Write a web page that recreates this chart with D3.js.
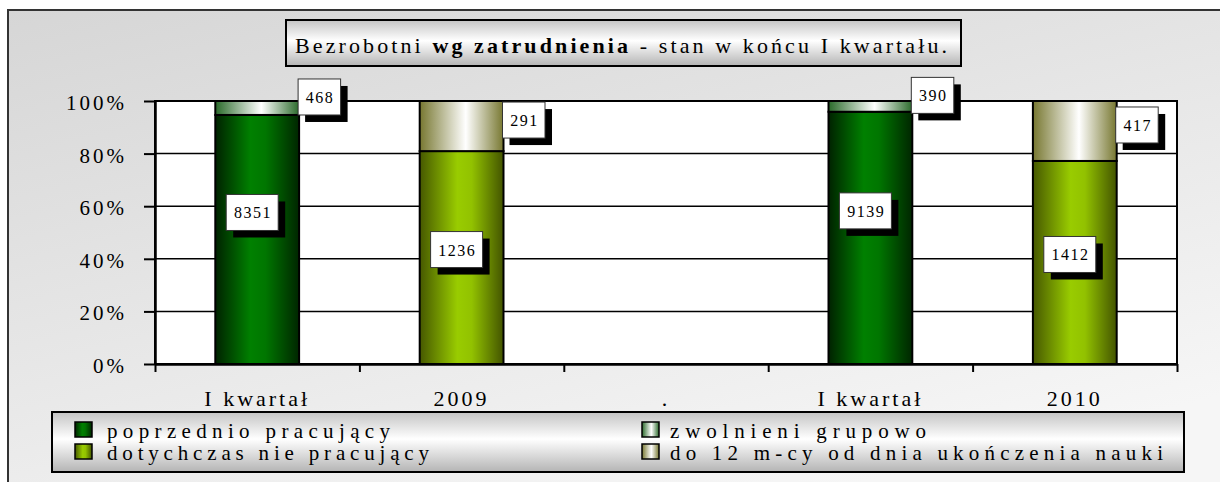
<!DOCTYPE html>
<html>
<head>
<meta charset="utf-8">
<script src="https://cdn.jsdelivr.net/npm/d3@7"></script>
<style>
    body { margin: 0; background: #fff; }
    svg { display: block; }
    text { font-family: "Liberation Serif", "Times New Roman", serif; fill: #000; }
</style>
</head>
<body>
<div class="chart"></div>
<script>
// data
const categories = ["I kwartał", "2009", ".", "I kwartał", "2010"];
const seriesNames = ["poprzednio pracujący", "dotychczas nie pracujący", "zwolnieni grupowo", "do 12 m-cy od dnia ukończenia nauki"];
const poprzednio = [8351, 0, 0, 9139, 0];
const dotychczas = [0, 1236, 0, 0, 1412];
const zwolnieni = [468, 0, 0, 390, 0];
const do12 = [0, 291, 0, 0, 417];
const yTicks = [0, 0.2, 0.4, 0.6, 0.8, 1];

const keys = ["p", "d", "z", "m"];
const rows = categories.map((c, i) => ({ i: i, cat: c, p: poprzednio[i], d: dotychczas[i], z: zwolnieni[i], m: do12[i] }));

const width = 1220, height = 482;
const margin = { top: 101, right: 43, bottom: 118, left: 155 };
const w = width - margin.left - margin.right,
    h = height - margin.top - margin.bottom;

const svg = d3.select(".chart").append("svg")
    .attr("width", width)
    .attr("height", height);

// gradients
const defs = svg.append("defs");
function hGrad(id, stops, vertical) {
    const g = defs.append("linearGradient").attr("id", id)
        .attr("x1", 0).attr("y1", 0)
        .attr("x2", vertical ? 0 : 1).attr("y2", vertical ? 1 : 0);
    stops.forEach(s => g.append("stop").attr("offset", s[0]).attr("stop-color", s[1]));
}
hGrad("g-p", [[0, "#002200"], [0.42, "#008000"], [0.6, "#007600"], [1, "#002600"]]);
hGrad("g-d", [[0, "#465800"], [0.45, "#99cc00"], [0.62, "#92c200"], [1, "#435400"]]);
hGrad("g-z", [[0, "#2a6a2a"], [0.55, "#ffffff"], [1, "#2a6a2a"]]);
hGrad("g-m", [[0, "#777730"], [0.55, "#ffffff"], [1, "#777730"]]);
hGrad("g-box", [[0, "#c4c4c4"], [0.45, "#ffffff"], [1, "#b4b4b4"]], true);
const bg = defs.append("linearGradient").attr("id", "g-bg")
    .attr("x1", 0).attr("y1", 0).attr("x2", 0.6).attr("y2", 1);
bg.append("stop").attr("offset", 0).attr("stop-color", "#d6d6d6");
bg.append("stop").attr("offset", 1).attr("stop-color", "#f6f6f6");

// outer frame
svg.append("rect")
    .attr("x", 8).attr("y", 10)
    .attr("width", 1240).attr("height", 500)
    .attr("fill", "url(#g-bg)")
    .attr("stroke", "#333").attr("stroke-width", 2);

// title
svg.append("rect")
    .attr("x", 286).attr("y", 20).attr("width", 675).attr("height", 46)
    .attr("fill", "url(#g-box)").attr("stroke", "#000").attr("stroke-width", 2);
const title = svg.append("text")
    .attr("x", 295).attr("y", 53)
    .attr("font-size", 22)
    .attr("textLength", 652).attr("lengthAdjust", "spacing");
title.append("tspan").text("Bezrobotni ");
title.append("tspan").attr("font-weight", "bold").text("wg zatrudnienia");
title.append("tspan").text(" - stan w końcu I kwartału.");

const g = svg.append("g")
    .attr("transform", "translate(" + margin.left + "," + margin.top + ")");

let xScale = d3.scaleBand()
    .domain(d3.range(categories.length))
    .range([0, w])
    .padding(0);

let yScale = d3.scaleLinear()
    .domain([0, 1])
    .range([h, 0]);

// plot area
g.append("rect")
    .attr("width", w).attr("height", h)
    .attr("fill", "#fff")
    .attr("stroke", "#000").attr("stroke-width", 2);

g.selectAll(".grid")
    .data(yTicks)
    .join("line")
    .attr("class", "grid")
    .attr("x1", 0).attr("x2", w)
    .attr("y1", d => yScale(d)).attr("y2", d => yScale(d))
    .attr("stroke", "#000").attr("stroke-width", 1.5);

// y axis
let yAxis = d3.axisLeft(yScale)
    .tickValues(yTicks)
    .tickSize(11)
    .tickSizeOuter(0)
    .tickPadding(17)
    .tickFormat(d3.format(".0%"));

const yg = g.append("g").attr("class", "axis y-axis").call(yAxis);
yg.select(".domain").attr("stroke", "#000").attr("stroke-width", 2.5);
yg.selectAll(".tick line").attr("stroke", "#000").attr("stroke-width", 2);
yg.selectAll(".tick text")
    .attr("font-size", 21)
    .attr("letter-spacing", 3)
    .attr("dy", "0.4em")
    .attr("font-family", null);

// x axis: ticks between categories, labels at centres
const xEdge = d3.scaleLinear().domain([0, categories.length]).range([0, w]);
const xg = g.append("g").attr("class", "axis x-axis")
    .attr("transform", `translate(0, ${h})`)
    .call(d3.axisBottom(xEdge).ticks(categories.length).tickSize(8).tickSizeOuter(0).tickFormat(""));
xg.select(".domain").attr("stroke", "#000").attr("stroke-width", 2.5);
xg.selectAll(".tick line").attr("stroke", "#000").attr("stroke-width", 2);

const xl = g.append("g")
    .attr("transform", `translate(0, ${h})`)
    .call(d3.axisBottom(xScale).tickSize(0).tickPadding(0).tickFormat(i => categories[i]));
xl.select(".domain").remove();
xl.selectAll(".tick text")
    .attr("font-size", 22)
    .attr("letter-spacing", 3)
    .attr("font-family", null)
    .attr("y", 42)
    .attr("dy", 0);

// stacked 100% bars
const stacked = d3.stack().keys(keys).offset(d3.stackOffsetExpand)(rows);
const barW = xScale.bandwidth() * 0.41;
const barX = i => xScale(i) + (xScale.bandwidth() - barW) / 2;

const layers = g.selectAll(".layer")
    .data(stacked)
    .join("g")
    .attr("class", "layer")
    .attr("fill", d => "url(#g-" + d.key + ")");

layers.selectAll("rect")
    .data(d => d.filter(s => s[1] - s[0] > 0))
    .join("rect")
    .attr("x", s => barX(s.data.i))
    .attr("y", s => yScale(s[1]))
    .attr("width", barW)
    .attr("height", s => yScale(s[0]) - yScale(s[1]))
    .attr("stroke", "#000")
    .attr("stroke-width", 2);

// data labels (white boxes with a black shadow)
// bottom series sit inside the bar, top series start at the bar's right edge
const nudgeY = { p: -27, d: -8, z: -11, m: -6 };
stacked.forEach(layer => {
    layer.filter(s => s[1] - s[0] > 0).forEach(s => {
        const k = layer.key;
        const top = k === "z" || k === "m";
        const cy = yScale((s[0] + s[1]) / 2) + nudgeY[k];
        const lab = g.append("g");
        const shadow = lab.append("rect").attr("fill", "#000");
        const box = lab.append("rect").attr("fill", "#fff").attr("stroke", "#333").attr("stroke-width", 1);
        const t = lab.append("text")
            .attr("y", cy + 6)
            .attr("text-anchor", "middle")
            .attr("font-size", 16)
            .attr("letter-spacing", 1.5)
            .text(s.data[k]);
        const bw = t.node().getComputedTextLength() + 14, bh = 36;
        const bx = top ? barX(s.data.i) + barW - 1 : barX(s.data.i) + barW / 2 - 5 - bw / 2;
        box.attr("x", bx).attr("y", cy - bh / 2).attr("width", bw).attr("height", bh);
        shadow.attr("x", bx + 7).attr("y", cy - bh / 2 + 7).attr("width", bw).attr("height", bh);
        t.attr("x", bx + bw / 2 + 0.75);
    });
});

// legend
const legendItems = [
    { key: "p", name: seriesNames[0], col: 0, row: 0, len: 283 },
    { key: "d", name: seriesNames[1], col: 0, row: 1, len: 322 },
    { key: "z", name: seriesNames[2], col: 1, row: 0, len: 256 },
    { key: "m", name: seriesNames[3], col: 1, row: 1, len: 493 }
];
svg.append("rect")
    .attr("x", 52).attr("y", 412).attr("width", 1132).attr("height", 60)
    .attr("fill", "url(#g-box)").attr("stroke", "#000").attr("stroke-width", 2);

const colX = [75, 642], rowY = [422, 444];
const li = svg.selectAll(".legend-item")
    .data(legendItems)
    .join("g")
    .attr("class", "legend-item")
    .attr("transform", d => `translate(${colX[d.col]}, ${rowY[d.row]})`);
li.append("rect")
    .attr("width", 17).attr("height", 15)
    .attr("fill", d => "url(#g-" + d.key + ")")
    .attr("stroke", "#000").attr("stroke-width", 1.5);
li.append("text")
    .attr("x", d => d.col === 0 ? 32 : 28)
    .attr("y", 16)
    .attr("font-size", 21)
    .attr("textLength", d => d.len)
    .attr("lengthAdjust", "spacing")
    .text(d => d.name);
</script>
</body>
</html>
